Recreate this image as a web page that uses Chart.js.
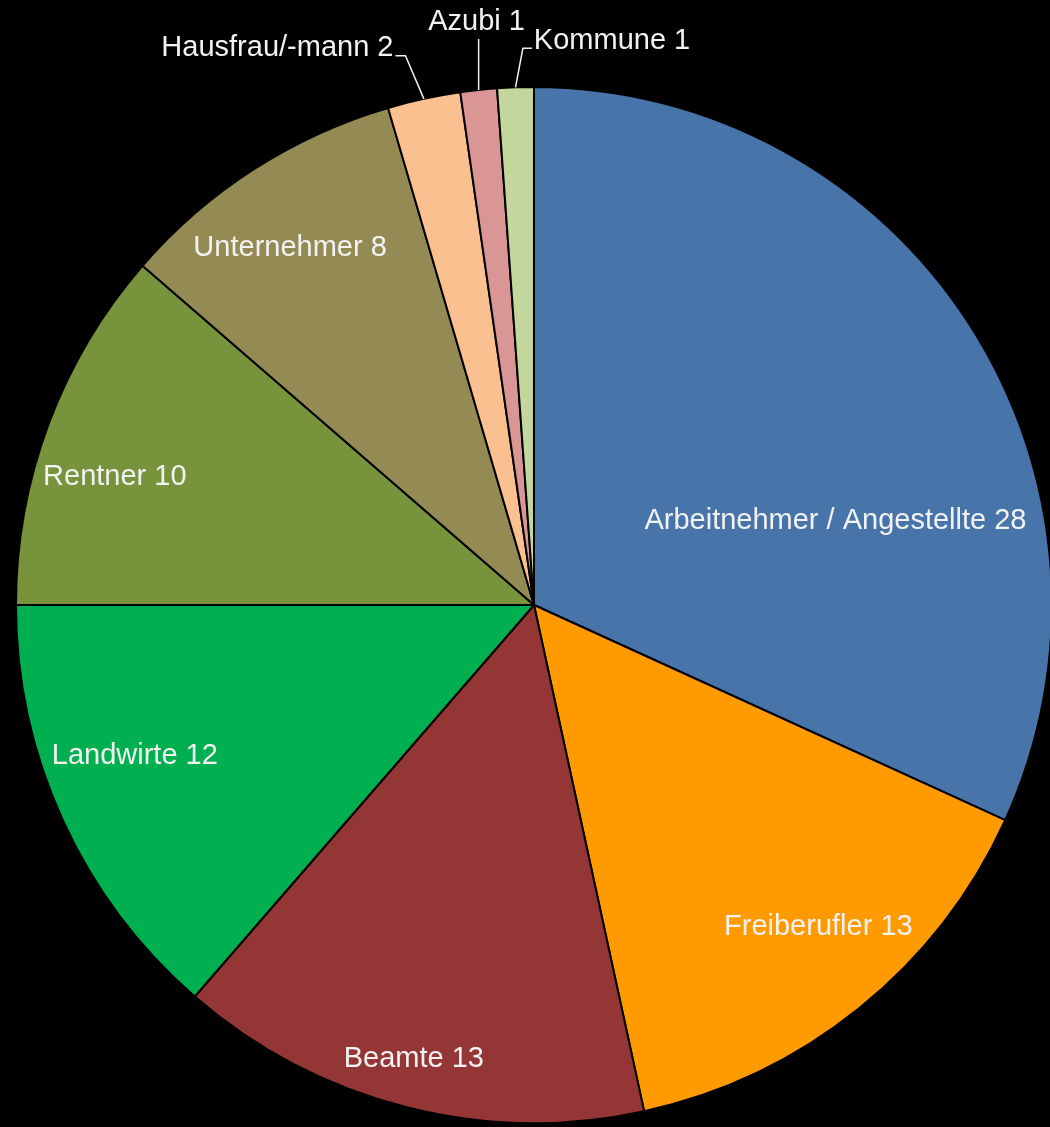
<!DOCTYPE html>
<html>
<head>
<meta charset="utf-8">
<script src="https://cdn.jsdelivr.net/npm/chart.js@4"></script>
<style>
  html, body { margin: 0; padding: 0; background: #000; overflow: hidden; }
  #wrap { width: 1060px; height: 1127px; }
</style>
</head>
<body>
<div id="wrap"><canvas id="myChart"></canvas></div>
<script>
const categories = ['Arbeitnehmer / Angestellte', 'Freiberufler', 'Beamte', 'Landwirte', 'Rentner',
    'Unternehmer', 'Hausfrau/-mann', 'Azubi', 'Kommune'];
const counts = [28, 13, 13, 12, 10, 8, 2, 1, 1];
const sliceColors = ['#4774A9', '#FF9A00', '#953636', '#00AF50', '#77933C',
    '#948A54', '#FAC090', '#D99694', '#C3D69B'];

// where each label sits: angle shift from slice middle (deg) and radius fraction
// outside labels get a leader line, side tells where the text goes
const placement = [
    { da: 17.2, f: 0.604 },
    { da: -2.6, f: 0.829 },
    { da: 0.5, f: 0.907 },
    { da: 3.8, f: 0.824 },
    { da: -3.5, f: 0.846 },
    { da: -1.6, f: 0.835 },
    { da: -0.9, f: 1.089, side: 'left' },
    { da: 0, f: 1.099, side: 'top' },
    { da: 0.9, f: 1.075, side: 'right' }
];

const labelPlugin = {
    id: 'sliceLabels',
    afterDatasetsDraw(chart) {
        const ctx = chart.ctx;
        const meta = chart.getDatasetMeta(0);
        ctx.save();
        ctx.font = '29px "Liberation Sans", Arial, sans-serif';
        ctx.fillStyle = '#F2F2F2';
        ctx.strokeStyle = '#F2F2F2';
        ctx.lineWidth = 1.5;
        meta.data.forEach((arc, i) => {
            const p = placement[i];
            const text = categories[i] + ' ' + counts[i];
            const mid = (arc.startAngle + arc.endAngle) / 2;
            const ang = mid + p.da * Math.PI / 180;
            const r = arc.outerRadius;
            const x = arc.x + Math.cos(ang) * r * p.f;
            const y = arc.y + Math.sin(ang) * r * p.f;
            if (!p.side) {
                ctx.textAlign = 'center';
                ctx.textBaseline = 'middle';
                ctx.fillText(text, x, y);
                return;
            }
            // leader line from the slice edge
            const ex = arc.x + Math.cos(mid) * r;
            const ey = arc.y + Math.sin(mid) * r;
            ctx.beginPath();
            ctx.moveTo(ex, ey);
            if (p.side === 'left') {
                ctx.lineTo(x, y);
                ctx.lineTo(x - 10, y);
                ctx.stroke();
                ctx.textAlign = 'right';
                ctx.textBaseline = 'middle';
                ctx.fillText(text, x - 12, y - 8);
            } else if (p.side === 'right') {
                ctx.lineTo(x, y);
                ctx.lineTo(x + 9, y);
                ctx.stroke();
                ctx.textAlign = 'left';
                ctx.textBaseline = 'middle';
                ctx.fillText(text, x + 11, y - 7);
            } else {
                ctx.lineTo(ex, y);
                ctx.stroke();
                ctx.textAlign = 'center';
                ctx.textBaseline = 'middle';
                ctx.fillText(text, ex - 2, y - 17);
            }
        });
        ctx.restore();
    }
};

const ctx = document.getElementById('myChart').getContext('2d');
const chart = new Chart(ctx, {
    type: 'pie',
    data: {
        labels: categories,
        datasets: [{
            data: counts,
            backgroundColor: sliceColors,
            borderColor: '#000000',
            borderWidth: 2
        }]
    },
    options: {
        responsive: true,
        maintainAspectRatio: false,
        animation: false,
        layout: {
            padding: { left: 15, top: 86, right: 7, bottom: 3 }
        },
        plugins: {
            legend: { display: false },
            tooltip: { enabled: false }
        }
    },
    plugins: [labelPlugin]
});
</script>
</body>
</html>
